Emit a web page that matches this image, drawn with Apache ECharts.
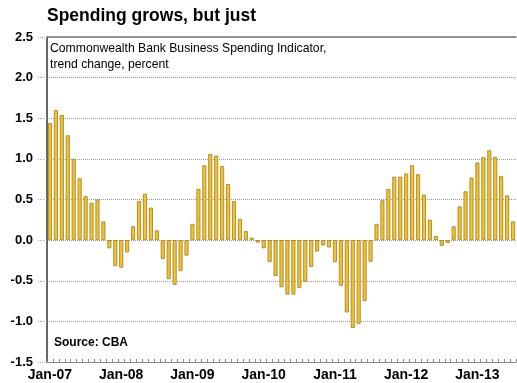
<!DOCTYPE html>
<html>
<head>
<meta charset="utf-8">
<script src="https://cdn.jsdelivr.net/npm/echarts@6/dist/echarts.min.js"></script>
<style>html,body{margin:0;padding:0;background:#fff;}#c{width:517px;height:383px;}</style>
</head>
<body>
<div id="c"></div>
<script>
var monthNames = ['Jan','Feb','Mar','Apr','May','Jun','Jul','Aug','Sep','Oct','Nov','Dec'];
var startYear = 2007;
var spending = [
  1.44, 1.60, 1.54, 1.29, 1.00, 0.76, 0.54, 0.46, 0.50, 0.23, -0.10, -0.32,
  -0.34, -0.15, 0.17, 0.48, 0.57, 0.40, 0.12, -0.23, -0.48, -0.55, -0.38, -0.19,
  0.20, 0.63, 0.92, 1.06, 1.04, 0.91, 0.69, 0.48, 0.26, 0.11, 0.03, -0.03,
  -0.10, -0.27, -0.44, -0.58, -0.67, -0.67, -0.59, -0.51, -0.33, -0.14, -0.065, -0.09,
  -0.27, -0.56, -0.89, -1.08, -1.03, -0.75, -0.265, 0.20, 0.49, 0.63, 0.78, 0.78,
  0.82, 0.92, 0.81, 0.56, 0.25, 0.05, -0.07, -0.035, 0.17, 0.415, 0.60, 0.77,
  0.955, 1.02, 1.105, 1.025, 0.79, 0.55, 0.23
];
var categories = [];
for (var i = 0; i < spending.length; i++) {
  var y = startYear + Math.floor(i / 12);
  categories.push(monthNames[i % 12] + '-' + String(y).slice(2));
}
var yTicks = { min: -1.5, max: 2.5, interval: 0.5 };
var titleText = 'Spending grows, but just';
var noteLines = ['Commonwealth Bank Business Spending Indicator,', 'trend change, percent'];
var sourceText = 'Source: CBA';

var FONT = '"Liberation Sans", Arial, sans-serif';
var chart = echarts.init(document.getElementById('c'), null, {renderer: 'canvas'});
chart.setOption({
  animation: false,
  backgroundColor: '#ffffff',
  textStyle: { fontFamily: FONT },
  grid: { left: 47, right: 1, top: 37, bottom: 21, containLabel: false },
  graphic: [
    { type: 'text', left: 47, top: 7, style: { text: titleText, font: 'bold 17.5px ' + FONT, fill: '#000' } },
    { type: 'text', left: 50, top: 41, style: { text: noteLines.join('\n'), font: '12.2px ' + FONT, fill: '#000', lineHeight: 16 } },
    { type: 'text', left: 54, top: 337, style: { text: sourceText, font: 'bold 12px ' + FONT, fill: '#000' } }
  ],
  xAxis: [{
    type: 'category',
    data: categories,
    position: 'bottom',
    boundaryGap: true,
    axisLine: { show: true, onZero: false, lineStyle: { color: '#888', width: 1 } },
    axisTick: { show: true, inside: true, interval: 0, length: 3, lineStyle: { color: '#888' } },
    axisLabel: { interval: 11, margin: 6, color: '#000', fontWeight: 'bold', fontSize: 14, fontFamily: FONT },
    splitLine: { show: false }
  }, {
    type: 'category',
    data: categories,
    position: 'top',
    axisLine: { show: true, onZero: false, lineStyle: { color: '#777', width: 1.5 } },
    axisTick: { show: false },
    axisLabel: { show: false },
    splitLine: { show: false }
  }],
  yAxis: {
    type: 'value',
    min: yTicks.min, max: yTicks.max, interval: yTicks.interval,
    axisLine: { show: true, lineStyle: { color: '#333', width: 1.5 } },
    axisTick: { show: true, length: 9, lineStyle: { color: '#aaa', type: 'dotted' } },
    axisLabel: { margin: 14, color: '#000', fontWeight: 'bold', fontSize: 13, fontFamily: FONT,
      formatter: function (v) { return v.toFixed(1); } },
    splitLine: { show: true, lineStyle: { color: '#999', type: 'dotted', width: 1 } }
  },
  series: [{
    type: 'bar',
    data: spending,
    xAxisIndex: 0,
    barWidth: 4,
    itemStyle: { color: '#F1C232', borderColor: '#A07C1C', borderWidth: 0.8 }
  }]
});
</script>
</body>
</html>
